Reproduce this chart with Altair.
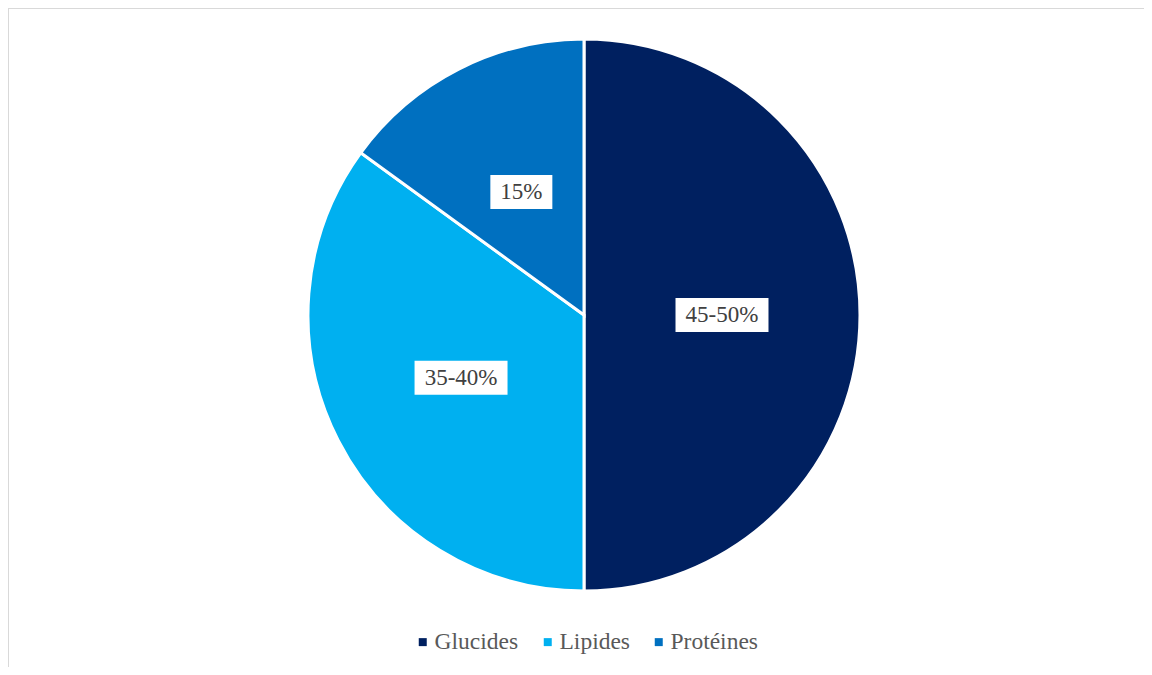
import altair as alt
import pandas as pd

categories = ["Glucides", "Lipides", "Protéines"]
values = [50, 35, 15]
labels = ["45-50%", "35-40%", "15%"]
colors = ["#002060", "#00B0F0", "#0070C0"]
order = [1, 2, 3]

df = pd.DataFrame({"cat": categories, "val": values, "label": labels, "ord": order})

W, H = 1136, 659
CX, CY, R = 576, 307, 276
LR = 138
FONT = "Times New Roman, Liberation Serif, serif"

base = alt.Chart(df)

pie = base.mark_arc(outerRadius=R, stroke="white", strokeWidth=3).encode(
    theta=alt.Theta("val:Q", stack=True),
    order=alt.Order("ord:Q"),
    color=alt.Color(
        "cat:N",
        scale=alt.Scale(domain=categories, range=colors),
        legend=alt.Legend(
            title=None,
            orient="none",
            direction="horizontal",
            legendX=403,
            legendY=622,
            symbolType="square",
            symbolSize=64,
            symbolStrokeWidth=0,
            labelFont=FONT,
            labelFontSize=23.5,
            labelColor="#595959",
            columnPadding=17,
            labelOffset=0,
            padding=0,
        ),
    ),
    x=alt.value(CX),
    y=alt.value(CY),
)

lab = base.transform_window(
    cum="sum(val)", sort=[alt.SortField("ord")], frame=[None, 0]
).transform_joinaggregate(
    total="sum(val)"
).transform_calculate(
    mid="2*PI*(datum.cum - datum.val/2)/datum.total"
).transform_calculate(
    lx=f"{CX} + {LR}*sin(datum.mid)",
    ly=f"{CY} - {LR}*cos(datum.mid)",
    bw="31 + 10.33*length(datum.label)",
).transform_calculate(
    x1="datum.lx - datum.bw/2",
    x2="datum.lx + datum.bw/2",
    y1="datum.ly - 17",
    y2="datum.ly + 17",
)

boxes = lab.mark_rect(color="white").encode(
    x=alt.X("x1:Q", scale=None, axis=None),
    x2="x2:Q",
    y=alt.Y("y1:Q", scale=None, axis=None),
    y2="y2:Q",
)

texts = lab.mark_text(font=FONT, fontSize=23, color="#404040", baseline="middle", align="center").encode(
    x=alt.X("lx:Q", scale=None, axis=None),
    y=alt.Y("ly:Q", scale=None, axis=None),
    text="label:N",
)

border_data = alt.Data(values=[{"a": 1}])
top_line = alt.Chart(border_data).mark_rule(color="#d9d9d9", strokeWidth=2).encode(
    x=alt.value(0), x2=alt.value(W), y=alt.value(0)
)
left_line = alt.Chart(border_data).mark_rule(color="#d9d9d9", strokeWidth=2).encode(
    x=alt.value(0), y=alt.value(0), y2=alt.value(H)
)

chart = alt.layer(pie, boxes, texts, top_line, left_line).properties(
    width=W, height=H, padding=0, autosize=alt.AutoSizeParams(type="none"), background="white"
).configure_view(stroke=None)

chart.save("out.html", embed_options={"renderer": "svg", "actions": False})
